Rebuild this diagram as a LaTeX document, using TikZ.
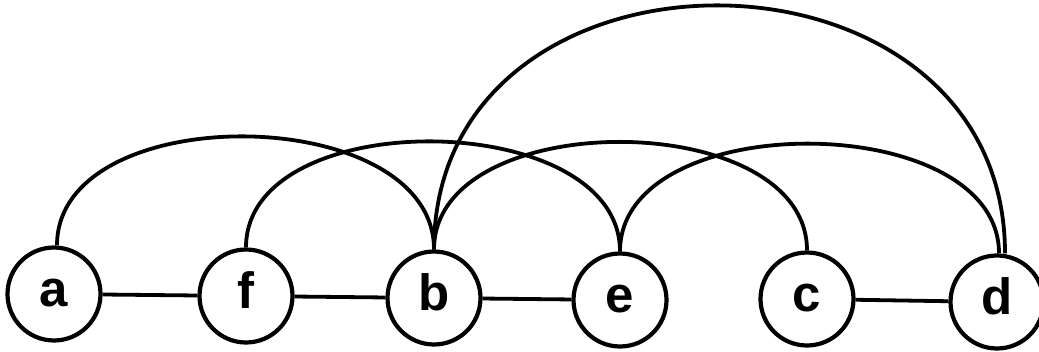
\documentclass[tikz,border=0pt]{standalone}
\usepackage{fontspec}
\setmainfont{Liberation Sans}
\begin{document}
\begin{tikzpicture}[x=1pt,y=-1pt,
  vtx/.style={circle,draw,line width=4.2pt,fill=white,inner sep=0pt,minimum size=93pt,
    font=\fontsize{51}{51}\selectfont\bfseries,text height=25pt,text depth=0pt},
  edge/.style={line width=3.8pt},
  arcedge/.style={line width=3.8pt}]
\useasboundingbox (0,0) rectangle (1039,352);
\fill[white] (0,0) rectangle (1039,352);
\node[vtx] (a) at (54,294) {a};
\node[vtx] (f) at (246,296) {f};
\node[vtx] (b) at (434,298) {b};
\node[vtx] (e) at (620,300) {e};
\node[vtx] (c) at (807,299) {c};
\node[vtx] (d) at (997,302) {d};
\draw[edge] (a) -- (f);
\draw[edge] (f) -- (b);
\draw[edge] (b) -- (e);
\draw[edge] (c) -- (d);
\draw[arcedge] ([xshift=3pt]a.north) .. controls +(0,-148) and +(0,-148) .. (b.north);
\draw[arcedge] (f.north) .. controls +(0,-144) and +(0,-144) .. (e.north);
\draw[arcedge] (b.north) .. controls +(0,-144) and +(0,-144) .. (c.north);
\draw[arcedge] (e.north) .. controls +(0,-145) and +(0,-145) .. ([xshift=2pt]d.north);
\draw[arcedge] (b.north) .. controls +(0,-328) and +(0,-328) .. ([xshift=8pt]d.north);
\end{tikzpicture}
\end{document}
